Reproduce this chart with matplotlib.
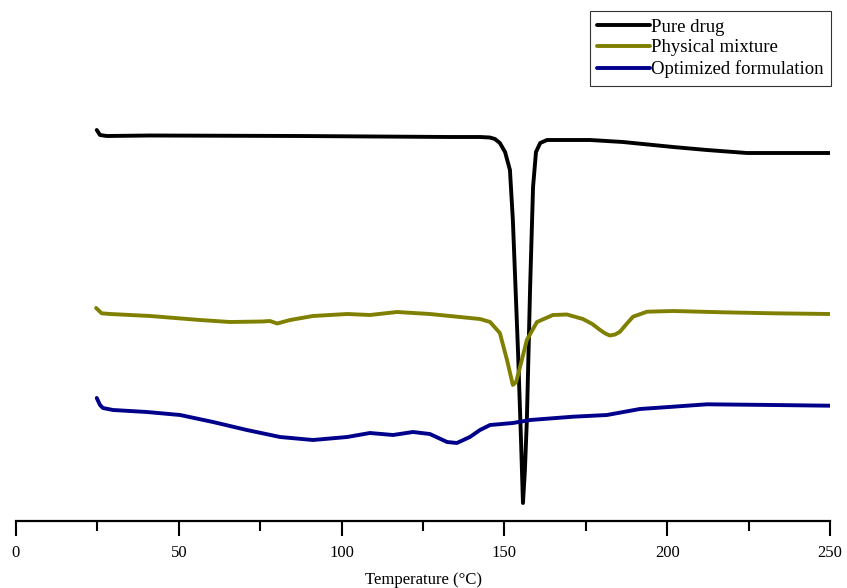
import matplotlib
matplotlib.use("Agg")
import matplotlib.pyplot as plt

plt.rcParams['font.family'] = ['Liberation Serif', 'DejaVu Serif']

# DSC thermograms, heat flow in arbitrary units (curves offset vertically)
t_pure = [24.8, 25.8, 27.9, 41.2, 87.2, 133.3, 142.5, 145.5, 147.1, 148.6, 150.2, 151.7,
          152.6, 154.2, 155.1, 155.7, 156.3, 156.9, 157.9, 158.8, 159.7, 161.0,
          163.1, 176.3, 186.4, 201.8, 212.2, 224.5, 237.7, 250.0]
hf_pure = [391, 386, 385, 385.5, 385, 384, 384, 383.5, 382, 378, 369, 351,
           301, 168, 81, 18, 51, 101, 234, 334, 369, 378,
           381, 381, 379, 374, 371, 368, 368, 368]

t_mix = [24.6, 26.3, 28.9, 41.2, 56.5, 65.7, 75.6, 78.0, 80.2, 84.2, 91.2, 101.7,
         108.7, 117.0, 127.1, 142.5, 145.6, 148.6, 150.8, 152.6, 153.6, 154.8,
         156.9, 160.0, 164.9, 169.2, 174.1, 177.0, 179.4, 181.0, 182.4, 184.0,
         185.5, 187.5, 189.5, 193.8, 201.8, 217.1, 232.5, 250.0]
hf_mix = [213, 207.7, 207, 205, 201, 199, 199.5, 200, 197.5, 201, 205, 207,
          206, 209, 207, 202, 199, 188, 161, 136, 139, 154,
          181, 199, 206, 206.5, 202, 197, 191, 187.5, 185.5, 186.5,
          189.3, 197, 204.3, 209.3, 210, 208.7, 207.7, 207]

t_opt = [24.8, 25.8, 26.7, 29.8, 40.2, 50.4, 60.5, 70.9, 81.1, 91.2, 101.7, 108.7,
         115.8, 121.9, 127.1, 132.4, 135.4, 139.4, 142.5, 145.6, 152.6, 157.9,
         171.1, 181.5, 191.6, 201.8, 212.2, 232.5, 250.0]
hf_opt = [123, 116, 113, 111, 109, 106, 99, 91, 84, 81, 84, 88,
          86, 89, 87, 79, 78, 84, 91, 96, 98, 101,
          104.3, 106, 112, 114.3, 116.7, 116, 115.3]

labels = ['Pure drug', 'Physical mixture', 'Optimized formulation']
colors = ['#000000', '#808000', '#00008b']

fig = plt.figure(figsize=(8.47, 5.88), dpi=100)
ax = fig.add_axes([16 / 847, 1 - 521 / 588, 814 / 847, 521 / 588])

lines = []
for t, hf, lab, c in zip([t_pure, t_mix, t_opt], [hf_pure, hf_mix, hf_opt], labels, colors):
    ln, = ax.plot(t, hf, color=c, lw=2.8, label=lab,
                  solid_joinstyle='round', solid_capstyle='round')
    lines.append(ln)

ax.set_xlim(0, 250)
ax.set_ylim(0, 521)
for s in ['left', 'right', 'top']:
    ax.spines[s].set_visible(False)
ax.spines['bottom'].set_linewidth(1.6)
ax.set_yticks([])
ax.set_xticks(range(0, 251, 50))
ax.set_xticks(range(25, 250, 50), minor=True)
ax.tick_params(axis='x', which='major', length=11, width=1.5, labelsize=12, pad=6)
ax.tick_params(axis='x', which='minor', length=7, width=1.5)
ax.set_xlabel('Temperature (°C)', fontsize=12, labelpad=8)
ax.patch.set_alpha(0)

leg = fig.legend(handles=lines, loc='upper right',
                 bbox_to_anchor=(831 / 847, 1 - 11 / 588), fontsize=13.5,
                 frameon=True, fancybox=False, edgecolor='black',
                 handlelength=2.8, handletextpad=0.05, borderpad=0.4,
                 labelspacing=0.2, borderaxespad=0)
leg.get_frame().set_linewidth(0.8)

fig.savefig('out.png', dpi=100)
